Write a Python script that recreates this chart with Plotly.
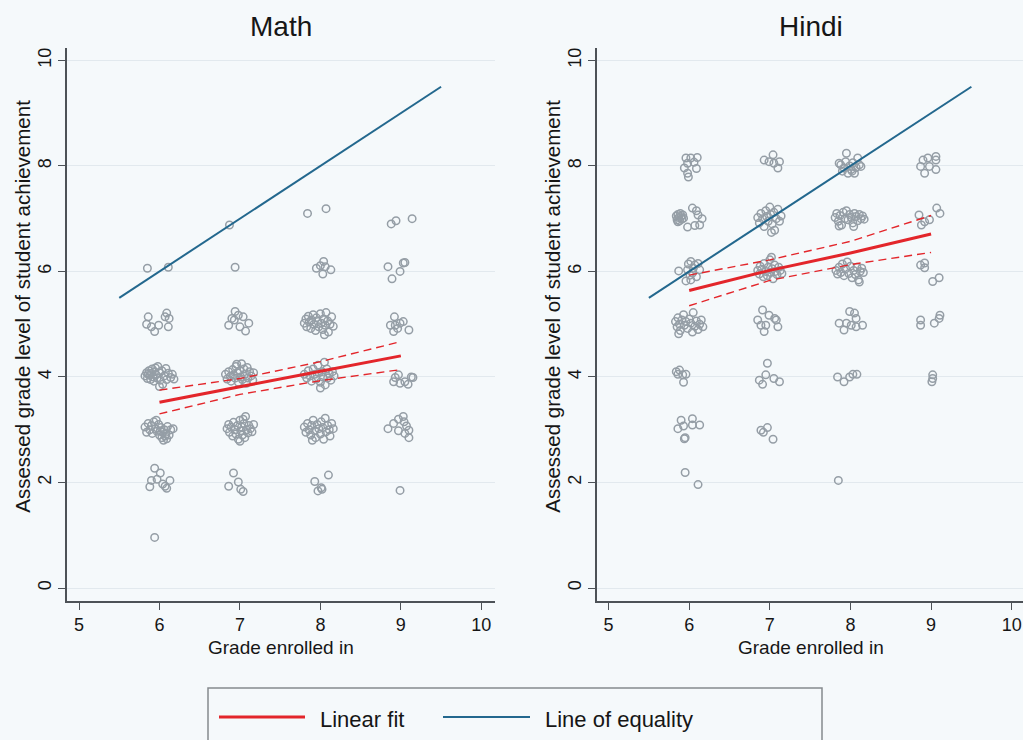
import plotly.graph_objects as go

# ---------------- data ----------------
grades = [6, 7, 8, 9]

# observed students: (grade enrolled, jittered) vs (assessed level, jittered)
math_grade6 = [
    (5.85, 6.06), (6.11, 6.08),
    (5.86, 5.14), (5.84, 5.00), (5.90, 4.95), (5.94, 4.86), (5.99, 4.98), (6.09, 5.21),
    (6.12, 5.11), (6.11, 4.95), (6.07, 5.14),
    (5.82, 4.02), (5.84, 4.08), (5.85, 3.97), (5.87, 4.12), (5.88, 4.03), (5.89, 3.95),
    (5.90, 4.07), (5.91, 4.15), (5.92, 4.00), (5.93, 3.92), (5.94, 4.10), (5.96, 4.04),
    (5.97, 3.98), (5.98, 4.20), (6.00, 4.08), (6.01, 3.94), (6.03, 4.12), (6.04, 3.86),
    (6.06, 4.02), (6.08, 4.16), (6.09, 3.95), (6.11, 4.07), (6.14, 3.99), (6.16, 4.05),
    (6.18, 3.96), (6.00, 3.82), (5.86, 4.05), (5.95, 4.17),
    (5.82, 3.05), (5.84, 2.95), (5.86, 3.12), (5.88, 3.00), (5.90, 3.08), (5.91, 2.93),
    (5.93, 3.15), (5.95, 3.02), (5.97, 2.97), (5.99, 3.10), (6.00, 2.90), (6.02, 3.04),
    (6.03, 2.85), (6.04, 2.95), (6.05, 2.80), (6.06, 3.00), (6.07, 2.88), (6.08, 2.92),
    (6.09, 2.83), (6.10, 3.06), (6.12, 2.90), (6.14, 3.00), (6.17, 3.02), (5.96, 3.18),
    (6.01, 2.98),
    (5.94, 2.27), (6.01, 2.18), (5.90, 2.04), (5.88, 1.92), (5.97, 2.06), (6.07, 1.93),
    (6.09, 1.89), (6.13, 2.04), (6.04, 1.97),
    (5.94, 0.96),
]
math_grade7 = [
    (6.87, 6.88), (6.94, 6.08),
    (6.86, 4.98), (6.90, 5.11), (6.94, 5.24), (6.98, 5.17), (7.04, 5.14), (7.00, 4.95),
    (7.07, 4.87), (7.11, 5.02), (6.93, 5.08),
    (6.82, 4.05), (6.84, 3.96), (6.86, 4.10), (6.88, 4.01), (6.89, 3.92), (6.91, 4.14),
    (6.92, 4.04), (6.94, 3.98), (6.95, 4.20), (6.97, 4.08), (6.98, 3.90), (7.00, 4.12),
    (7.01, 4.00), (7.02, 4.25), (7.03, 3.95), (7.05, 4.15), (7.06, 4.05), (7.08, 3.88),
    (7.09, 4.18), (7.10, 3.98), (7.12, 4.10), (7.14, 4.02), (7.16, 3.94), (7.17, 4.08),
    (6.96, 4.24),
    (6.84, 3.02), (6.86, 3.10), (6.87, 2.95), (6.89, 3.05), (6.91, 2.88), (6.92, 3.14),
    (6.94, 3.00), (6.95, 2.92), (6.97, 3.08), (6.98, 2.82), (7.00, 3.18), (7.01, 2.98),
    (7.02, 3.05), (7.03, 2.90), (7.05, 3.12), (7.06, 2.85), (7.07, 3.25), (7.08, 3.00),
    (7.10, 2.94), (7.11, 3.08), (7.13, 3.02), (7.15, 2.96), (7.17, 3.10), (7.00, 2.78),
    (7.04, 3.20),
    (6.92, 2.18), (6.86, 1.93), (6.98, 2.01), (7.01, 1.87), (7.04, 1.83),
]
math_grade8 = [
    (7.84, 7.10), (8.07, 7.19),
    (7.95, 6.06), (8.04, 6.19), (8.06, 6.09), (8.03, 5.95), (8.13, 6.03), (8.00, 6.11),
    (7.80, 5.02), (7.82, 5.10), (7.83, 4.95), (7.85, 5.15), (7.86, 5.04), (7.88, 4.92),
    (7.89, 5.08), (7.91, 5.18), (7.92, 5.00), (7.94, 4.88), (7.95, 5.12), (7.97, 5.05),
    (7.98, 4.95), (8.00, 5.20), (8.01, 5.02), (8.03, 4.90), (8.04, 5.10), (8.06, 4.98),
    (8.07, 5.22), (8.09, 5.06), (8.10, 4.85), (8.12, 5.00), (8.14, 5.14), (8.16, 4.96),
    (8.05, 4.80),
    (7.80, 4.05), (7.83, 3.98), (7.85, 4.12), (7.87, 4.02), (7.89, 3.92), (7.91, 4.15),
    (7.93, 4.05), (7.95, 3.96), (7.97, 4.22), (7.98, 4.08), (8.00, 3.90), (8.02, 4.10),
    (8.03, 4.00), (8.05, 4.28), (8.06, 3.85), (8.08, 4.15), (8.09, 3.98), (8.11, 4.06),
    (8.13, 3.94), (8.15, 4.10), (8.17, 4.02), (8.00, 3.79),
    (7.80, 3.05), (7.82, 2.95), (7.84, 3.12), (7.86, 3.00), (7.88, 2.90), (7.89, 3.08),
    (7.91, 3.18), (7.93, 2.98), (7.94, 2.85), (7.96, 3.10), (7.98, 3.02), (8.00, 2.92),
    (8.01, 3.15), (8.03, 3.04), (8.04, 2.82), (8.06, 3.22), (8.07, 2.96), (8.09, 3.08),
    (8.11, 3.00), (8.12, 2.88), (8.14, 3.12), (8.16, 3.02), (7.90, 2.80),
    (7.93, 2.02), (8.10, 2.14), (8.01, 1.90), (7.97, 1.84), (8.02, 1.87),
]
math_grade9 = [
    (8.88, 6.90), (8.94, 6.96), (9.14, 7.00),
    (8.84, 6.09), (8.99, 6.00), (9.03, 6.16), (9.05, 6.17), (8.89, 5.86),
    (8.92, 5.14), (8.87, 4.98), (8.93, 4.98), (8.99, 5.02), (9.03, 5.05), (9.10, 4.89),
    (8.91, 4.86), (8.96, 4.92),
    (8.97, 4.04), (8.91, 3.91), (8.99, 3.88), (9.05, 3.91), (9.09, 3.86), (9.13, 4.00),
    (9.15, 3.99), (8.93, 3.99),
    (8.84, 3.02), (8.91, 3.12), (8.97, 3.20), (9.03, 3.25), (8.97, 2.98), (9.04, 3.15),
    (9.07, 3.07), (9.10, 2.99), (9.10, 2.85), (9.05, 2.93),
    (8.99, 1.85),
]

hindi_grade6 = [
    (5.96, 8.15), (6.02, 8.15), (6.10, 8.16), (5.98, 8.05), (6.06, 8.07), (5.94, 7.96),
    (6.09, 7.95), (5.98, 7.86), (5.99, 7.79),
    (5.84, 7.05), (5.85, 6.98), (5.86, 7.08), (5.87, 7.02), (5.88, 6.96), (5.89, 7.10),
    (5.90, 7.04), (5.91, 6.99), (5.92, 7.07), (5.86, 6.94), (5.93, 7.01), (6.04, 7.20),
    (6.11, 7.07), (6.16, 7.00), (6.13, 6.88), (6.07, 6.87), (5.98, 6.84), (6.09, 7.15),
    (5.87, 6.01), (6.02, 6.19), (6.07, 6.12), (5.98, 6.03), (6.04, 5.97), (6.09, 5.90),
    (6.02, 5.84), (5.96, 5.82), (6.13, 6.03), (5.99, 6.14), (6.05, 6.06), (6.01, 5.93),
    (6.11, 6.15),
    (5.83, 5.05), (5.85, 4.95), (5.86, 5.12), (5.88, 5.00), (5.89, 4.88), (5.91, 5.08),
    (5.93, 5.18), (5.94, 4.98), (5.96, 5.05), (5.98, 4.92), (6.00, 5.10), (6.02, 5.02),
    (6.04, 4.85), (6.05, 5.22), (6.07, 4.96), (6.09, 5.06), (6.11, 4.90), (6.13, 5.00),
    (6.15, 5.08), (6.17, 4.95), (5.87, 4.82),
    (5.84, 4.10), (5.88, 4.13), (5.92, 4.04), (5.96, 4.05), (5.93, 3.90), (5.86, 4.05),
    (5.90, 3.18), (6.04, 3.21), (5.86, 3.02), (5.93, 3.07), (6.04, 3.09), (6.13, 3.09),
    (5.94, 2.83), (5.95, 2.85),
    (5.95, 2.19), (6.11, 1.96),
]
hindi_grade7 = [
    (6.93, 8.11), (7.04, 8.21), (7.12, 8.08), (7.10, 7.96), (6.99, 8.08), (7.05, 8.05),
    (6.85, 7.02), (6.87, 6.92), (6.89, 7.10), (6.91, 7.00), (6.93, 6.85), (6.95, 7.15),
    (6.96, 7.04), (6.98, 6.95), (7.00, 7.22), (7.01, 7.08), (7.03, 6.90), (7.05, 7.12),
    (7.06, 6.78), (7.08, 7.00), (7.10, 7.18), (7.12, 6.95), (7.14, 7.05), (7.02, 6.74),
    (6.85, 6.02), (6.87, 5.95), (6.88, 6.10), (6.90, 6.04), (6.92, 5.90), (6.93, 6.15),
    (6.95, 6.00), (6.97, 5.92), (6.98, 6.08), (7.00, 6.22), (7.01, 5.98), (7.03, 6.05),
    (7.04, 5.86), (7.06, 6.12), (7.07, 6.00), (7.09, 5.94), (7.11, 6.08), (7.13, 6.02),
    (7.15, 5.96), (7.02, 6.27),
    (6.91, 5.27), (6.99, 5.17), (7.06, 5.11), (6.85, 5.08), (6.89, 4.98), (6.95, 4.98),
    (7.10, 4.95), (6.93, 4.86), (7.08, 5.08),
    (6.97, 4.26), (6.95, 4.04), (6.87, 3.94), (6.91, 3.86), (7.05, 3.97), (7.12, 3.91),
    (6.89, 2.99), (6.97, 3.04), (6.92, 2.95), (7.04, 2.82),
]
hindi_grade8 = [
    (7.95, 8.24), (7.86, 8.05), (7.92, 7.96), (8.01, 7.93), (8.09, 8.15), (8.13, 7.99),
    (8.05, 7.86), (7.97, 7.86), (7.88, 8.02), (7.94, 8.08), (7.99, 8.00), (8.03, 8.06),
    (8.07, 7.97), (8.11, 8.02), (7.90, 7.90), (8.02, 7.90),
    (7.81, 7.02), (7.83, 7.10), (7.85, 6.95), (7.87, 7.06), (7.89, 6.88), (7.91, 7.12),
    (7.93, 7.00), (7.95, 7.15), (7.97, 6.98), (7.99, 7.08), (8.01, 7.02), (8.03, 6.92),
    (8.05, 7.10), (8.07, 7.04), (8.09, 6.96), (8.11, 7.08), (8.13, 7.00), (8.15, 7.05),
    (8.17, 6.99), (8.04, 6.85), (7.86, 6.86),
    (7.82, 6.02), (7.84, 5.95), (7.86, 6.08), (7.88, 5.98), (7.90, 6.14), (7.92, 5.92),
    (7.94, 6.05), (7.96, 6.18), (7.98, 5.96), (8.00, 6.10), (8.02, 5.88), (8.04, 6.02),
    (8.06, 5.94), (8.08, 6.08), (8.10, 5.84), (8.12, 6.00), (8.14, 6.06), (8.16, 5.98),
    (8.11, 5.80),
    (7.99, 5.24), (8.05, 5.21), (8.07, 5.11), (7.86, 5.02), (7.95, 5.02), (7.92, 4.89),
    (8.01, 4.98), (8.07, 4.95), (8.15, 4.98),
    (7.84, 4.00), (7.92, 3.91), (7.99, 4.00), (8.03, 4.05), (8.08, 4.05),
    (7.85, 2.04),
]
hindi_grade9 = [
    (8.90, 8.11), (8.96, 8.15), (9.06, 8.18), (9.06, 8.11), (8.87, 7.99), (8.98, 7.99),
    (9.06, 7.93), (8.92, 7.86),
    (8.85, 7.07), (8.92, 6.94), (8.98, 6.98), (8.88, 6.88), (9.07, 7.20), (9.11, 7.10),
    (8.87, 6.12), (8.92, 6.16), (8.92, 6.07), (9.02, 5.81), (9.10, 5.88),
    (8.87, 5.08), (8.87, 4.98), (9.04, 5.02), (9.10, 5.11), (9.11, 5.17),
    (9.02, 4.04), (9.02, 3.97), (9.01, 3.91),
]

# fitted values and 95% confidence limits at grades 6..9
math_fit = [3.52, 3.82, 4.11, 4.40]
math_ci_upper = [3.75, 3.97, 4.29, 4.67]
math_ci_lower = [3.30, 3.67, 3.93, 4.14]

hindi_fit = [5.64, 6.02, 6.35, 6.71]
hindi_ci_upper = [5.93, 6.22, 6.57, 7.06]
hindi_ci_lower = [5.35, 5.83, 6.13, 6.36]

equality_x = [5.5, 9.5]
equality_y = [5.5, 9.5]

panel_titles = ["Math", "Hindi"]
x_ticks = [5, 6, 7, 8, 9, 10]
y_ticks = [0, 2, 4, 6, 8, 10]

# ---------------- style ----------------
W, H = 1023, 740
BG = "#f5f9fb"
GRID = "#e2e9ee"
AXIS = "#4d5257"
MARKER = "#959ea6"
RED = "#e3262b"
BLUE = "#23688e"
FONT = "Liberation Sans, Arial, Helvetica, sans-serif"
TXT = "#161616"


def px_x(p):
    return p / W


def px_y(p):
    return 1 - p / H


def label(text, x, y, size, angle=0, xanchor="center"):
    fig.add_annotation(text=text, x=px_x(x), y=px_y(y), textangle=angle,
                       xref="paper", yref="paper", showarrow=False,
                       xanchor=xanchor, yanchor="middle",
                       font=dict(family=FONT, size=size, color=TXT))


panels = [
    dict(points=math_grade6 + math_grade7 + math_grade8 + math_grade9,
         fit=math_fit, up=math_ci_upper, lo=math_ci_lower,
         xdom=(66.7, 495.0), xr=(4.847, 10.17), center=281),
    dict(points=hindi_grade6 + hindi_grade7 + hindi_grade8 + hindi_grade9,
         fit=hindi_fit, up=hindi_ci_upper, lo=hindi_ci_lower,
         xdom=(596.7, 1023.0), xr=(4.853, 10.140), center=811),
]

fig = go.Figure()
ydom = (px_y(600.7), px_y(47.7))

for i, p in enumerate(panels):
    n = "" if i == 0 else str(i + 1)
    xa, ya = "x" + n, "y" + n
    px_, py_ = zip(*p["points"])
    fig.add_trace(go.Scatter(
        x=list(px_), y=list(py_), xaxis=xa, yaxis=ya, mode="markers",
        marker=dict(symbol="circle-open", size=7.5, color=MARKER,
                    line=dict(width=1.5, color=MARKER)),
        showlegend=False, hoverinfo="skip"))
    for ci in (p["up"], p["lo"]):
        fig.add_trace(go.Scatter(
            x=grades, y=ci, xaxis=xa, yaxis=ya, mode="lines",
            line=dict(color=RED, width=1.4, dash="8px,5px"),
            showlegend=False, hoverinfo="skip"))
    fig.add_trace(go.Scatter(
        x=grades, y=p["fit"], xaxis=xa, yaxis=ya, mode="lines",
        line=dict(color=RED, width=3), showlegend=False, hoverinfo="skip"))
    fig.add_trace(go.Scatter(
        x=equality_x, y=equality_y, xaxis=xa, yaxis=ya, mode="lines",
        line=dict(color=BLUE, width=2), showlegend=False, hoverinfo="skip"))

    axis_common = dict(showline=True, linecolor=AXIS, linewidth=1.6,
                       ticks="outside", ticklen=7, tickwidth=1.2, tickcolor=AXIS,
                       tickfont=dict(family=FONT, size=18, color=TXT),
                       zeroline=False)
    fig.update_layout(**{
        ("xaxis" + n): dict(domain=[px_x(p["xdom"][0]), px_x(p["xdom"][1])],
                            range=list(p["xr"]), tickvals=x_ticks,
                            showgrid=False, anchor=ya, **axis_common),
        ("yaxis" + n): dict(domain=list(ydom), range=[-0.24, 10.24],
                            tickvals=y_ticks, tickangle=-90, showgrid=True,
                            gridcolor=GRID, gridwidth=1, anchor=xa,
                            **axis_common),
    })

    # panel title and axis titles
    label(panel_titles[i], p["center"], 27, 28)
    label("Grade enrolled in", p["center"], 647, 19)
    label("Assessed grade level of student achievement",
          p["xdom"][0] - 45, 306, 20.5, angle=-90)

# legend box drawn in page coordinates
shapes = [
    dict(type="rect", xref="paper", yref="paper",
         x0=px_x(208), x1=px_x(822), y0=px_y(760), y1=px_y(688),
         line=dict(color="#858a8f", width=1.5), fillcolor=BG, layer="below"),
    dict(type="line", xref="paper", yref="paper",
         x0=px_x(219), x1=px_x(305), y0=px_y(717), y1=px_y(717),
         line=dict(color=RED, width=3)),
    dict(type="line", xref="paper", yref="paper",
         x0=px_x(443), x1=px_x(530), y0=px_y(717), y1=px_y(717),
         line=dict(color=BLUE, width=2)),
]

fig.update_layout(
    width=W, height=H, autosize=False,
    margin=dict(l=0, r=0, t=0, b=0),
    paper_bgcolor=BG, plot_bgcolor=BG,
    shapes=shapes, showlegend=False,
)

for text, xpos in (("Linear fit", 318), ("Line of equality", 543)):
    label(text, xpos, 719, 22, xanchor="left")

fig.write_html("out.html")
